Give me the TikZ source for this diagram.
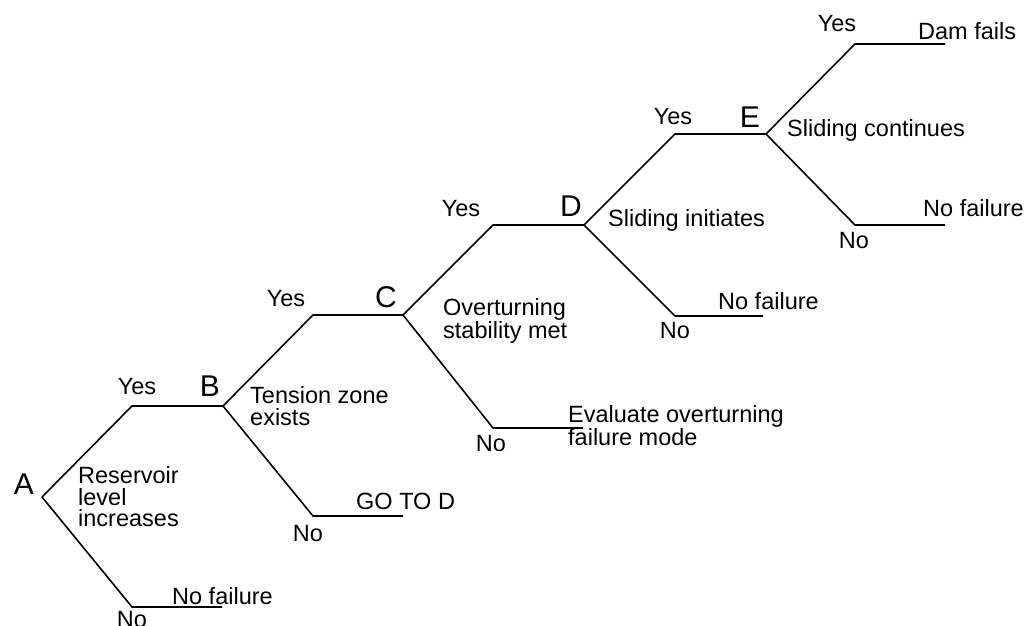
\documentclass[tikz,border=0pt]{standalone}
\usepackage{fontspec}
\setmainfont{Liberation Sans}
\usetikzlibrary{positioning, calc}

\begin{document}
\begin{tikzpicture}[
    x=1pt, y=1pt,
    branch/.style={line width=1.6pt, line join=miter},
    letter/.style={inner sep=0pt, font=\fontsize{30}{30}\selectfont},
    answer/.style={inner sep=0pt, font=\fontsize{23.5}{21.5}\selectfont},
    event/.style={inner sep=0pt, align=left, font=\fontsize{23.5}{21.5}\selectfont},
    outcome/.style={inner sep=0pt, align=left, font=\fontsize{23.5}{21.5}\selectfont}]

    \useasboundingbox (0,0) rectangle (1029,625);

    % Decision points and branch corners
    \coordinate (A) at (42,128);
    \coordinate (Ay) at (132,219);
    \coordinate (An) at (132,18);
    \coordinate (Ane) at (222,18);
    \coordinate (B) at (223,219);
    \coordinate (By) at (313,310);
    \coordinate (Bn) at (313,109);
    \coordinate (Bne) at (403,109);
    \coordinate (C) at (403,310);
    \coordinate (Cy) at (493,400);
    \coordinate (Cn) at (493,197);
    \coordinate (Cne) at (583,197);
    \coordinate (D) at (584,400);
    \coordinate (Dy) at (675,491);
    \coordinate (Dn) at (675,309);
    \coordinate (Dne) at (763,309);
    \coordinate (E) at (766,491);
    \coordinate (Ey) at (855,581);
    \coordinate (Eye) at (945,581);
    \coordinate (En) at (855,400);
    \coordinate (Ene) at (945,400);

    % Branches
    \draw[branch] (A) -- (Ay) -- (B);
    \draw[branch] (A) -- (An) -- (Ane);
    \draw[branch] (B) -- (By) -- (C);
    \draw[branch] (B) -- (Bn) -- (Bne);
    \draw[branch] (C) -- (Cy) -- (D);
    \draw[branch] (C) -- (Cn) -- (Cne);
    \draw[branch] (D) -- (Dy) -- (E);
    \draw[branch] (D) -- (Dn) -- (Dne);
    \draw[branch] (E) -- (Ey) -- (Eye);
    \draw[branch] (E) -- (En) -- (Ene);

    % Point letters
    \node[letter, above left=2pt and 8pt of A] (lA) {A};
    \node[letter, above left=9pt and 3pt of B] (lB) {B};
    \node[letter, above left=7pt and 6pt of C] (lC) {C};
    \node[letter, above left=8pt and 2pt of D] (lD) {D};
    \node[letter, above left=6pt and 6pt of E] (lE) {E};

    % Events
    \node[event, right=36pt of A] (tA) {Reservoir\\level\\increases};
    \node[event, right=27pt of B] (tB) {Tension zone\\exists};
    \node[event, right=40pt of C, yshift=-6pt] (tC) {Overturning\\stability met};
    \node[event, right=24pt of D, yshift=5pt] (tD) {Sliding initiates};
    \node[event, right=21pt of E, yshift=4pt] (tE) {Sliding continues};

    % Yes / No answers
    \node[answer, above=11pt of Ay, xshift=5pt] (yA) {Yes};
    \node[answer, above=8pt of By, xshift=-27pt] (yB) {Yes};
    \node[answer, above=8pt of Cy, xshift=-32pt] (yC) {Yes};
    \node[answer, above=9pt of Dy, xshift=-2pt] (yD) {Yes};
    \node[answer, above=12pt of Ey, xshift=-18pt] (yE) {Yes};
    \node[answer, below=4pt of An] (nA) {No};
    \node[answer, below=9pt of Bn, xshift=-5pt] (nB) {No};
    \node[answer, below=7pt of Cn, xshift=-2pt] (nC) {No};
    \node[answer, below=6pt of Dn] (nD) {No};
    \node[answer, below=7pt of En, xshift=-1pt] (nE) {No};

    % Outcomes
    \node[outcome, anchor=south west] (oA) at ($(Ane)+(-50,2)$) {No failure};
    \node[outcome, anchor=south west] (oB) at ($(Bne)+(-47,6)$) {GO TO D};
    \node[outcome, anchor=north west] (oC) at ($(Cne)+(-15,23)$) {Evaluate overturning\\failure mode};
    \node[outcome, anchor=south west] (oD) at ($(Dne)+(-45,6)$) {No failure};
    \node[outcome, anchor=south west] (oE1) at ($(Eye)+(-27,4)$) {Dam fails};
    \node[outcome, anchor=south west] (oE2) at ($(Ene)+(-22,8)$) {No failure};
\end{tikzpicture}
\end{document}
